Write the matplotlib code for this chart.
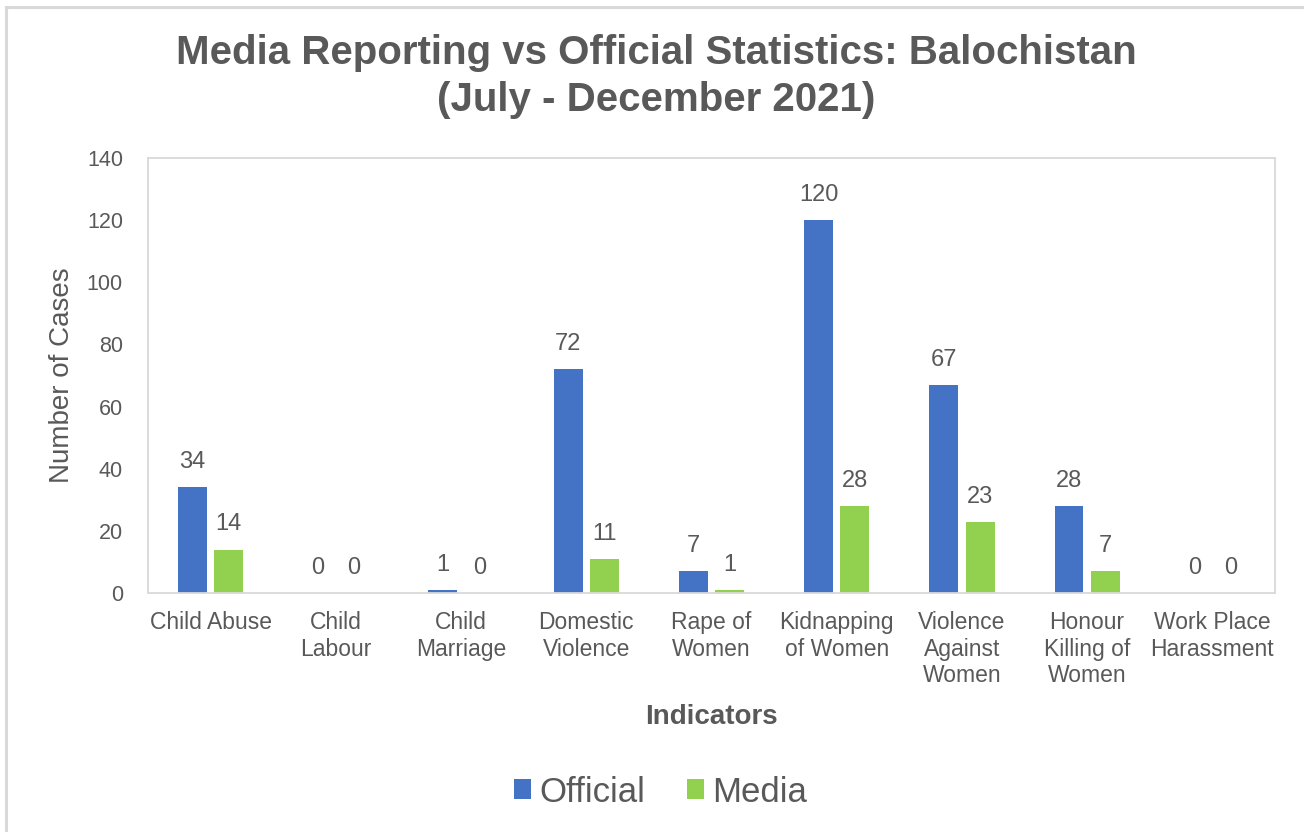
import matplotlib
matplotlib.use("Agg")
import matplotlib.pyplot as plt
from matplotlib.lines import Line2D
from matplotlib.patches import Patch
import numpy as np

plt.rcParams['font.family'] = ['Liberation Sans', 'DejaVu Sans']

categories = ["Child Abuse", "Child\nLabour", "Child\nMarriage", "Domestic\nViolence",
              "Rape of\nWomen", "Kidnapping\nof Women", "Violence\nAgainst\nWomen",
              "Honour\nKilling of\nWomen", "Work Place\nHarassment"]
official = [34, 0, 1, 72, 7, 120, 67, 28, 0]
media = [14, 0, 0, 11, 1, 28, 23, 7, 0]

BLUE = "#4472C4"
GREEN = "#92D050"
TEXT = "#595959"
GRID = "#D9D9D9"

W, H = 1304, 832
fig = plt.figure(figsize=(W / 100, H / 100), dpi=100)
ax = fig.add_axes([148 / W, 1 - 593 / H, (1275 - 148) / W, (593 - 158) / H])

x = np.arange(len(categories))
bw = 0.23
off = 0.145
b1 = ax.bar(x - off, official, bw, color=BLUE, label="Official")
b2 = ax.bar(x + off, media, bw, color=GREEN, label="Media")

for bars, vals in ((b1, official), (b2, media)):
    for rect, v in zip(bars, vals):
        ax.annotate(str(v), (rect.get_x() + rect.get_width() / 2, v),
                    xytext=(0, 13.7), textcoords="offset points",
                    ha="center", va="baseline", fontsize=17, color=TEXT)

ax.set_xlim(-0.5, len(categories) - 0.5)
ax.set_ylim(0, 140)
ax.set_yticks(np.arange(0, 141, 20))
ax.set_xticks(x)
ax.set_xticklabels(categories, fontsize=16.5, color=TEXT, linespacing=1.2)
ax.tick_params(axis="y", length=0, pad=18, labelsize=15.5, labelcolor=TEXT)
ax.tick_params(axis="x", length=0, pad=13)
for s in ax.spines.values():
    s.set_color(GRID)
    s.set_linewidth(1.3)

ax.set_ylabel("Number of Cases", fontsize=20, color=TEXT, labelpad=8.5)
ax.set_xlabel("Indicators", fontsize=20, color=TEXT, fontweight="bold", labelpad=12)

fig.text(0.503, 1 - 53 / H, "Media Reporting vs Official Statistics: Balochistan",
         ha="center", va="center", fontsize=29, fontweight="bold", color=TEXT)
fig.text(0.503, 1 - 100 / H, "(July - December 2021)",
         ha="center", va="center", fontsize=29, fontweight="bold", color=TEXT)

handles = [Patch(facecolor=BLUE), Patch(facecolor=GREEN)]
fig.legend(handles, ["Official", "Media"], loc="center", bbox_to_anchor=(0.5065, 1 - 792 / H),
           ncol=2, frameon=False, fontsize=25, labelcolor=TEXT,
           handlelength=0.49, handleheight=0.49, handletextpad=0.23, columnspacing=1.2)

# outer chart frame
fig.add_artist(Line2D([6 / W, 6 / W], [0, 1 - 7 / H], color=GRID, lw=2.2, transform=fig.transFigure))
fig.add_artist(Line2D([6 / W, 1], [1 - 7 / H, 1 - 7 / H], color=GRID, lw=2.2, transform=fig.transFigure))

fig.savefig("out.png", dpi=100)
